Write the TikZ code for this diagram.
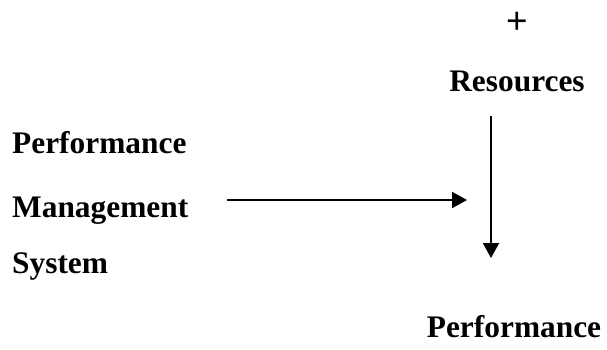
\documentclass[tikz,border=0pt]{standalone}
\usepackage{fontspec}
\setmainfont{Liberation Serif}
\newfontfamily\plusfont{Liberation Sans}
\usetikzlibrary{arrows.meta}
\begin{document}
\begin{tikzpicture}[x=1bp,y=-1bp,
  lbl/.style={inner sep=0pt, font=\fontsize{31.5}{36}\selectfont\bfseries},
  plusstyle/.style={inner sep=0pt, font=\plusfont\fontsize{37}{40}\selectfont},
  conn/.style={line width=2bp, -{Triangle[length=15bp,width=16bp]}}]
\useasboundingbox (0,0) rectangle (607,349);
\node[plusstyle, anchor=base] (plus) at (517,33) {+};
\node[lbl, anchor=base] (res) at (517,91) {Resources};
\node[lbl, anchor=base west] (pms1) at (12,153) {Performance};
\node[lbl, anchor=base west] (pms2) at (12,217) {Management};
\node[lbl, anchor=base west] (pms3) at (12,273) {System};
\node[lbl, anchor=base] (perf) at (514,337) {Performance};
\coordinate (hstart) at (227,200);
\coordinate (hend) at (467,200);
\coordinate (vstart) at (491,116);
\coordinate (vend) at (491,258);
\draw[conn] (hstart) -- (hend);
\draw[conn] (vstart) -- (vend);
\end{tikzpicture}
\end{document}
